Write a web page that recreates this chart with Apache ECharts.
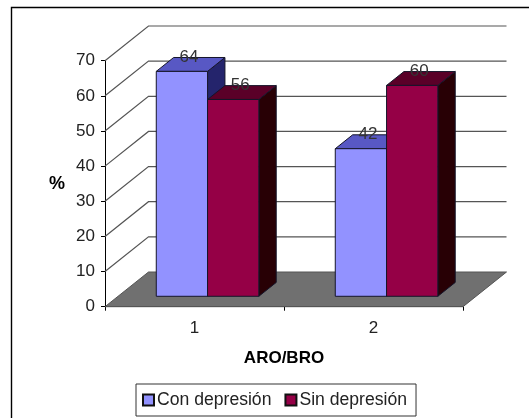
<!DOCTYPE html>
<html>
<head>
<meta charset="utf-8">
<style>html,body{margin:0;padding:0;background:#fff}#chart{width:529px;height:419px}</style>
<script src="https://cdn.jsdelivr.net/npm/echarts@6/dist/echarts.min.js"></script>
</head>
<body>
<div id="chart"></div>
<script>
const categories = ['1', '2'];
const seriesNames = ['Con depresión', 'Sin depresión'];
const conDepresion = [64, 42];
const sinDepresion = [56, 60];
const gridTicks = [0, 10, 20, 30, 40, 50, 60, 70];

const FONT = '"Liberation Sans", Arial, sans-serif';
const WALL_DX = 43.5, WALL_DY = -34.7; // oblique offset of the back wall
const BAR_NEAR = 0.3, BAR_FAR = 0.7;   // where the bars sit in the depth

function poly(points, fill, stroke) {
    return {
        type: 'polygon',
        shape: { points: points },
        style: { fill: fill, stroke: stroke || '#15152a', lineWidth: 1 }
    };
}

function renderWall(params, api) {
    const v = api.value(0);
    const a = api.coord([0, v]);
    const x0 = params.coordSys.x, x1 = x0 + params.coordSys.width;
    const y = a[1];
    const children = [];
    if (v === 0) {
        children.push(poly([[x0, y], [x1, y], [x1 + WALL_DX, y + WALL_DY], [x0 + WALL_DX, y + WALL_DY]], '#707070', '#555'));
    } else {
        children.push({
            type: 'polyline',
            shape: { points: [[x0, y], [x0 + WALL_DX, y + WALL_DY], [x1 + WALL_DX, y + WALL_DY]] },
            style: { fill: 'none', stroke: '#555', lineWidth: 1.2 }
        });
    }
    return { type: 'group', children: children };
}

function barRenderer(slot, front, top, side) {
    return function (params, api) {
        const cat = api.value(0), val = api.value(1);
        const bandW = api.size([1, 0])[0];
        const base = api.coord([cat, 0]), head = api.coord([cat, val]);
        const w = bandW * 0.2865;
        const nx = WALL_DX * BAR_NEAR, ny = WALL_DY * BAR_NEAR;
        const fx = WALL_DX * BAR_FAR, fy = WALL_DY * BAR_FAR;
        const l = base[0] + nx + (slot - 1) * w, r = l + w;
        const yb = base[1] + ny, yt = head[1] + ny;
        const ddx = fx - nx, ddy = fy - ny;
        return {
            type: 'group',
            children: [
                poly([[r, yb], [r + ddx, yb + ddy], [r + ddx, yt + ddy], [r, yt]], side),
                poly([[l, yt], [r, yt], [r + ddx, yt + ddy], [l + ddx, yt + ddy]], top),
                poly([[l, yb], [r, yb], [r, yt], [l, yt]], front),
                {
                    type: 'text',
                    z2: 10,
                    style: {
                        x: (l + r) / 2 + 7, y: yt - 14.3, text: String(val),
                        fill: '#333', font: '17px ' + FONT, align: 'center', verticalAlign: 'middle'
                    }
                }
            ]
        };
    };
}

function toPairs(values) {
    return values.map((v, i) => [i, v]);
}

const chart = echarts.init(document.getElementById('chart'));
chart.setOption({
    animation: false,
    backgroundColor: '#fff',
    graphic: [{
        type: 'polyline',
        shape: { points: [[11.5, 418], [11.5, 7.5], [529, 7.5]] },
        style: { fill: 'none', stroke: '#000', lineWidth: 1.4 }
    }],
    grid: { left: 105, right: 66, top: 60.7, bottom: 112.3 },
    xAxis: {
        type: 'category',
        data: categories,
        name: 'ARO/BRO',
        nameLocation: 'middle',
        nameGap: 43,
        nameTextStyle: { fontFamily: FONT, fontWeight: 'bold', fontSize: 17, color: '#000' },
        axisLine: { lineStyle: { color: '#000' } },
        axisTick: { show: true, length: 4, lineStyle: { color: '#000' } },
        axisLabel: { fontFamily: FONT, fontSize: 17, color: '#222', margin: 13 }
    },
    yAxis: {
        type: 'value',
        min: 0,
        max: 70,
        interval: 10,
        name: '%',
        nameLocation: 'middle',
        nameRotate: 0,
        nameGap: 40,
        nameTextStyle: { fontFamily: FONT, fontWeight: 'bold', fontSize: 18, color: '#000' },
        splitLine: { show: false },
        axisLine: { show: true, lineStyle: { color: '#000' } },
        axisTick: { show: true, length: 4, lineStyle: { color: '#000' } },
        axisLabel: { fontFamily: FONT, fontSize: 17, color: '#222', margin: 10 }
    },
    legend: {
        left: 136,
        top: 384,
        orient: 'horizontal',
        data: seriesNames,
        icon: 'rect',
        itemWidth: 11,
        itemHeight: 11,
        itemGap: 13,
        padding: [7, 9, 7, 6],
        borderColor: '#333',
        borderWidth: 1,
        backgroundColor: '#fff',
        textStyle: { fontFamily: FONT, fontSize: 17.6, color: '#222', padding: [0, 0, 0, -2] }
    },
    series: [
        {
            type: 'custom',
            silent: true,
            renderItem: renderWall,
            data: gridTicks.map((t) => [t]),
            encode: { y: 0 },
            z: 1
        },
        {
            name: seriesNames[0],
            type: 'custom',
            renderItem: barRenderer(0, '#9292ff', '#5858c4', '#24246c'),
            data: toPairs(conDepresion),
            encode: { x: 0, y: 1 },
            itemStyle: { color: '#9292ff', borderColor: '#111', borderWidth: 1 },
            z: 2
        },
        {
            name: seriesNames[1],
            type: 'custom',
            renderItem: barRenderer(1, '#950046', '#5a0028', '#280005'),
            data: toPairs(sinDepresion),
            encode: { x: 0, y: 1 },
            itemStyle: { color: '#950046', borderColor: '#111', borderWidth: 1 },
            z: 3
        }
    ]
});
</script>
</body>
</html>
